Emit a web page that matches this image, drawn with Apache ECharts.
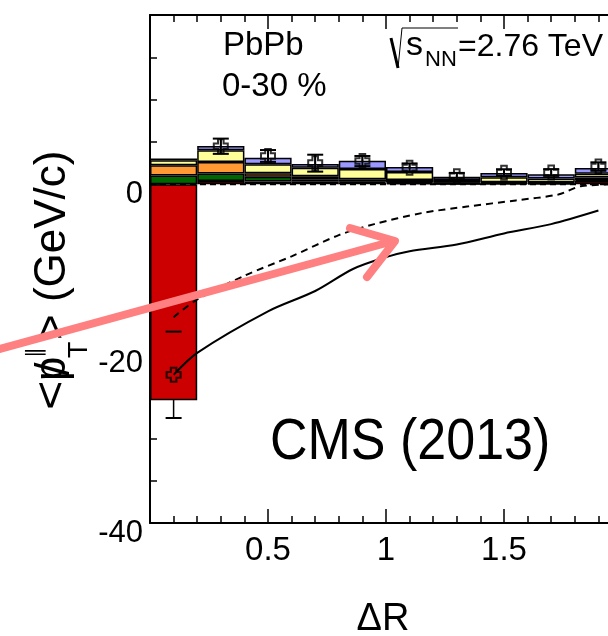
<!DOCTYPE html>
<html>
<head>
<meta charset="utf-8">
<script src="https://cdn.jsdelivr.net/npm/echarts@6/dist/echarts.min.js"></script>
<style>
  html, body { margin: 0; padding: 0; background: #fff; }
  #chart { width: 608px; height: 636px; }
</style>
</head>
<body>
<div id="chart"></div>
<script>
// bins of ΔR (width 0.2)
const binLabels = ["0-0.2", "0.2-0.4", "0.4-0.6", "0.6-0.8", "0.8-1.0", "1.0-1.2", "1.2-1.4", "1.4-1.6", "1.6-1.8", "1.8-2.0"];
const binCenters = [0.1, 0.3, 0.5, 0.7, 0.9, 1.1, 1.3, 1.5, 1.7, 1.9];

// stacked pT-range contributions (GeV/c)
const redVals = [-25.5, 0.4, 0.32, 0.3, 0.2, 0.15, 0.05, 0.1, 0.1, 0.4];
const greenVals = [1.05, 0.87, 0.59, 0.3, 0.1, 0.1, 0.05, 0.05, 0.05, 0.1];
const orangeVals = [1.2, 1.37, 0.39, 0.35, 0.3, 0.25, 0.1, 0.1, 0.1, 0.3];
const yellowVals = [0.6, 1.38, 1.06, 1.0, 1.2, 0.95, 0.3, 0.6, 0.45, 0.45];
const blueVals = [0.2, 0.51, 0.79, 0.45, 1.0, 0.6, 0.4, 0.5, 0.5, 0.67];

// total points with errors
const pointVals = [-22.5, 4.5, 3.35, 2.5, 2.75, 1.97, 0.95, 1.38, 1.4, 2.1];
const pointErr = [5.1, 0.9, 0.7, 1.0, 0.6, 0.5, 0.4, 0.4, 0.4, 0.5];

// curves
const solidX = [0.1, 0.2, 0.5, 0.7, 0.86, 1.0, 1.1, 1.3, 1.5, 1.7, 1.9];
const solidY = [-22.5, -19.9, -15.0, -12.6, -10.0, -8.6, -7.9, -7.1, -5.8, -4.7, -3.1];
const dashX = [0.1, 0.2, 0.4, 0.6, 0.8, 0.95, 1.15, 1.35, 1.55, 1.73, 1.83, 2.0];
const dashY = [-15.7, -13.6, -10.8, -8.5, -6.0, -4.7, -3.4, -2.6, -1.9, -1.2, -0.2, 0];
const zeroX = [0, 2];
const zeroY = [0, 0];

const xTicks = { min: 0, max: 2, interval: 0.5 };
const yTicks = { min: -40, max: 20, interval: 20 };

const FONT = "Liberation Sans";
const chart = echarts.init(document.getElementById("chart"));

function barSeries(name, vals, color) {
    return {
        name: name, type: "bar", stack: "all", xAxisIndex: 2, yAxisIndex: 0,
        barWidth: "100%", barCategoryGap: "0%", z: 2,
        data: vals,
        itemStyle: { color: color, borderColor: "#000", borderWidth: 1.5 },
        silent: true
    };
}

const valueAxisCommon = {
    type: "value",
    axisLine: { show: true, onZero: false, lineStyle: { color: "#000", width: 2 } },
    axisTick: { show: true, inside: true, length: 14, lineStyle: { color: "#000", width: 1.5 } },
    minorTick: { show: true, length: 7, lineStyle: { color: "#000", width: 1.5 } },
    splitLine: { show: false },
    minorSplitLine: { show: false }
};

const option = {
    animation: false,
    backgroundColor: "#fff",
    grid: { left: 150, top: 15, width: 472, height: 508, show: false, containLabel: false, outerBoundsMode: "none" },
    xAxis: [
        Object.assign({}, valueAxisCommon, {
            min: xTicks.min, max: xTicks.max, interval: xTicks.interval, position: "bottom",
            minorTick: Object.assign({}, valueAxisCommon.minorTick, { splitNumber: 5 }),
            axisLabel: {
                fontFamily: FONT, fontSize: 33, color: "#000", margin: 11,
                formatter: v => (v === 0 || v === 2) ? "" : String(v)
            }
        }),
        Object.assign({}, valueAxisCommon, {
            min: xTicks.min, max: xTicks.max, interval: xTicks.interval, position: "top",
            minorTick: Object.assign({}, valueAxisCommon.minorTick, { splitNumber: 5 }),
            axisLabel: { show: false }
        }),
        { type: "category", data: binLabels, show: false, boundaryGap: true }
    ],
    yAxis: [
        Object.assign({}, valueAxisCommon, {
            min: yTicks.min, max: yTicks.max, interval: yTicks.interval, position: "left",
            minorTick: Object.assign({}, valueAxisCommon.minorTick, { splitNumber: 4 }),
            axisLabel: {
                fontFamily: FONT, fontSize: 31, color: "#000", margin: 7,
                verticalAlign: "top", lineHeight: 20,
                formatter: v => v === 20 ? "" : String(v)
            }
        }),
        Object.assign({}, valueAxisCommon, {
            min: yTicks.min, max: yTicks.max, interval: yTicks.interval, position: "right",
            minorTick: Object.assign({}, valueAxisCommon.minorTick, { splitNumber: 4 }),
            axisLabel: { show: false }
        })
    ],
    series: [
        // error bar stems (behind the bars)
        {
            type: "custom", xAxisIndex: 0, yAxisIndex: 0, z: 1, silent: true,
            data: binCenters.map((x, i) => [x, pointVals[i], pointErr[i]]),
            renderItem: (params, api) => {
                const top = api.coord([api.value(0), api.value(1) + api.value(2)]);
                const bot = api.coord([api.value(0), api.value(1) - api.value(2)]);
                return { type: "line", shape: { x1: top[0], y1: top[1], x2: bot[0], y2: bot[1] },
                    style: { stroke: "#000", lineWidth: 1.5 } };
            }
        },
        barSeries("red", redVals, "#cc0000"),
        barSeries("green", greenVals, "#006600"),
        barSeries("orange", orangeVals, "#ff9933"),
        barSeries("yellow", yellowVals, "#ffff99"),
        barSeries("blue", blueVals, "#9999ff"),
        // error caps
        {
            type: "custom", xAxisIndex: 0, yAxisIndex: 0, z: 4, silent: true,
            data: binCenters.map((x, i) => [x, pointVals[i], pointErr[i]]),
            renderItem: (params, api) => {
                const top = api.coord([api.value(0), api.value(1) + api.value(2)]);
                const bot = api.coord([api.value(0), api.value(1) - api.value(2)]);
                const mid = api.coord([api.value(0), api.value(1)]);
                const w = 8;
                const children = [
                    { type: "line", shape: { x1: top[0] - w, y1: top[1], x2: top[0] + w, y2: top[1] } },
                    { type: "line", shape: { x1: bot[0] - w, y1: bot[1], x2: bot[0] + w, y2: bot[1] } }
                ];
                if (params.dataIndex > 0) {
                    children.push({ type: "line", shape: { x1: top[0], y1: top[1], x2: bot[0], y2: bot[1] } });
                }
                children.forEach(c => { c.style = { stroke: "#000", lineWidth: 2 }; });
                return { type: "group", children: children };
            }
        },
        {
            name: "zero", type: "line", xAxisIndex: 0, yAxisIndex: 0, z: 3, silent: true,
            data: zeroX.map((x, i) => [x, zeroY[i]]), symbol: "none",
            lineStyle: { color: "#000", width: 2, type: [6, 4] }
        },
        {
            name: "dashed", type: "line", xAxisIndex: 0, yAxisIndex: 0, z: 3, silent: true,
            data: dashX.map((x, i) => [x, dashY[i]]), symbol: "none", smooth: 0.3,
            lineStyle: { color: "#000", width: 2, type: [7, 5] }
        },
        {
            name: "solid", type: "line", xAxisIndex: 0, yAxisIndex: 0, z: 3, silent: true,
            data: solidX.map((x, i) => [x, solidY[i]]), symbol: "none", smooth: 0.3,
            lineStyle: { color: "#000", width: 2 }
        },
        {
            name: "points", type: "scatter", xAxisIndex: 0, yAxisIndex: 0, z: 5, silent: true,
            data: binCenters.map((x, i) => [x, pointVals[i]]),
            symbol: "path://M3,0 L7,0 L7,3 L10,3 L10,7 L7,7 L7,10 L3,10 L3,7 L0,7 L0,3 L3,3 Z",
            symbolSize: 14,
            itemStyle: { color: "rgba(0,0,0,0)", borderColor: "#000", borderWidth: 2 }
        }
    ],
    graphic: [
        { type: "text", x: 223, y: 46, style: { text: "PbPb", font: "33px " + FONT, fill: "#000", verticalAlign: "middle" } },
        { type: "text", x: 222, y: 87, style: { text: "0-30 %", font: "33px " + FONT, fill: "#000", verticalAlign: "middle" } },
        { type: "polyline", shape: { points: [[391, 38], [398, 68]] }, style: { stroke: "#000", lineWidth: 3, fill: null } },
        { type: "polyline", shape: { points: [[398, 68], [402, 28], [458, 28]] }, style: { stroke: "#000", lineWidth: 1, fill: null } },
        { type: "text", x: 406, y: 46, style: { text: "s", font: "34px " + FONT, fill: "#000", verticalAlign: "middle" } },
        { type: "text", x: 425, y: 60, style: { text: "NN", font: "22px " + FONT, fill: "#000", verticalAlign: "middle" } },
        { type: "text", x: 458, y: 47, style: { text: "=2.76 TeV", font: "32px " + FONT, fill: "#000", verticalAlign: "middle" } },
        { type: "text", x: 270, y: 443, scaleY: 1.12, style: { text: "CMS (2013)", font: "52px " + FONT, fill: "#000", verticalAlign: "middle" } },
        { type: "text", x: 383, y: 620, style: { text: "ΔR", font: "38px " + FONT, fill: "#000", align: "center", verticalAlign: "middle" } },
        // y-axis title, rotated
        { type: "text", x: 53, y: 410, rotation: Math.PI / 2, scaleX: 1.15, style: { text: "<", font: "44px " + FONT, fill: "#000", verticalAlign: "middle" } },
        { type: "text", x: 53, y: 381, rotation: Math.PI / 2, style: { text: "p", font: "44px " + FONT, fill: "#000", verticalAlign: "middle" } },
        { type: "text", x: 56, y: 369, rotation: Math.PI / 2, style: { text: "/", font: "48px " + FONT, fill: "#000", align: "center", verticalAlign: "middle" } },
        { type: "text", x: 80, y: 358, rotation: Math.PI / 2, style: { text: "T", font: "27px " + FONT, fill: "#000", verticalAlign: "middle" } },
        { type: "text", x: 36, y: 358, rotation: Math.PI / 2, style: { text: "∥", font: "21px DejaVu Sans", fill: "#000", verticalAlign: "middle" } },
        { type: "text", x: 53, y: 340, rotation: Math.PI / 2, style: { text: "> (GeV/c)", font: "44px " + FONT, fill: "#000", verticalAlign: "middle" } },
        // pink hand-drawn arrow annotation
        { type: "polyline", z: 100, shape: { points: [[0, 349], [390, 242]] }, style: { stroke: "#ff8080", lineWidth: 8, lineCap: "round", fill: null } },
        { type: "polyline", z: 100, shape: { points: [[350, 228], [395, 241], [367, 277]] }, style: { stroke: "#ff8080", lineWidth: 8, lineCap: "round", lineJoin: "round", fill: null } }
    ]
};

chart.setOption(option);
window.addEventListener("resize", () => chart.resize());
</script>
</body>
</html>
